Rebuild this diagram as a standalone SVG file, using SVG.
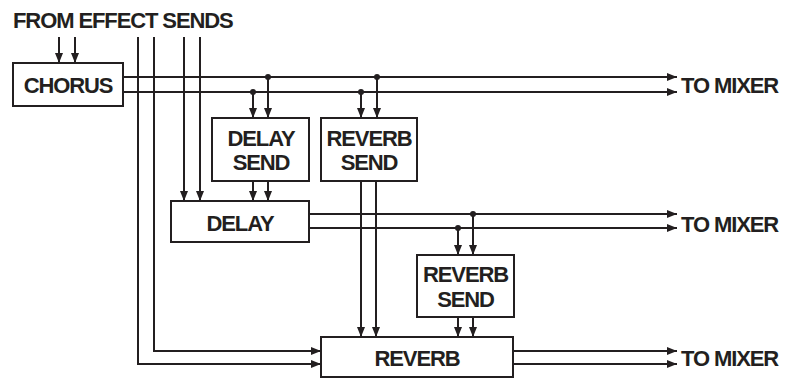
<svg xmlns="http://www.w3.org/2000/svg" width="785" height="378" viewBox="0 0 785 378">
<defs>
<marker id="ah" markerUnits="userSpaceOnUse" markerWidth="10" markerHeight="10" viewBox="0 0 10 10" refX="10" refY="5" orient="auto">
<path d="M0,1 L10,5 L0,9 Z" fill="#231f20"/>
</marker>
<style>
.box{fill:#fff;stroke:#231f20;stroke-width:2}
.ln{fill:none;stroke:#231f20;stroke-width:2}
.ar{fill:none;stroke:#231f20;stroke-width:2;marker-end:url(#ah)}
.dot{fill:#231f20}
text{font-family:"Liberation Sans",Arial,Helvetica,sans-serif;font-weight:bold;font-size:22px;letter-spacing:-1.1px;fill:#231f20}
.c{text-anchor:middle}
</style>
</defs>
<rect width="785" height="378" fill="#fff"/>
<g id="connectors">
<path class="ar" d="M59,37 V63"/>
<path class="ar" d="M75,37 V63"/>
<path class="ar" d="M138,37 V364 H321"/>
<path class="ar" d="M154,37 V351 H321"/>
<path class="ar" d="M184,37 V201"/>
<path class="ar" d="M200,37 V201"/>
<path class="ar" d="M123,77 H677"/>
<path class="ar" d="M123,92 H677"/>
<circle class="dot" cx="268" cy="77" r="3"/>
<circle class="dot" cx="253" cy="92" r="3"/>
<circle class="dot" cx="377" cy="77" r="3"/>
<circle class="dot" cx="361" cy="92" r="3"/>
<path class="ar" d="M253,92 V118"/>
<path class="ar" d="M268,77 V118"/>
<path class="ar" d="M361,92 V118"/>
<path class="ar" d="M377,77 V118"/>
<path class="ar" d="M253,181 V201"/>
<path class="ar" d="M268,181 V201"/>
<path class="ar" d="M361,181 V337"/>
<path class="ar" d="M376,181 V337"/>
<path class="ar" d="M309,214 H677"/>
<path class="ar" d="M309,228 H677"/>
<circle class="dot" cx="473" cy="214" r="3"/>
<circle class="dot" cx="458" cy="228" r="3"/>
<path class="ar" d="M458,228 V255"/>
<path class="ar" d="M473,214 V255"/>
<path class="ar" d="M458,317 V337"/>
<path class="ar" d="M473,317 V337"/>
<path class="ar" d="M513,351 H677"/>
<path class="ar" d="M513,364 H677"/>
</g>
<text x="13" y="28">FROM EFFECT SENDS</text>
<g id="chorus">
<rect class="box" x="13" y="63" width="110" height="43"/>
<text class="c" x="68" y="93">CHORUS</text>
</g>
<g id="delay-send">
<rect class="box" x="212" y="118" width="97" height="63"/>
<text class="c" x="261" y="146">DELAY</text>
<text class="c" x="261" y="170">SEND</text>
</g>
<g id="reverb-send-1">
<rect class="box" x="321" y="118" width="96" height="63"/>
<text class="c" x="369" y="146">REVERB</text>
<text class="c" x="369" y="170">SEND</text>
</g>
<g id="delay">
<rect class="box" x="171" y="201" width="138" height="41"/>
<text class="c" x="240" y="231">DELAY</text>
</g>
<g id="reverb-send-2">
<rect class="box" x="417" y="255" width="97" height="62"/>
<text class="c" x="465.5" y="282">REVERB</text>
<text class="c" x="465.5" y="307">SEND</text>
</g>
<g id="reverb">
<rect class="box" x="321" y="337" width="192" height="40"/>
<text class="c" x="417" y="366">REVERB</text>
</g>
<g id="outputs">
<text x="681" y="93">TO MIXER</text>
<text x="681" y="232">TO MIXER</text>
<text x="681" y="366">TO MIXER</text>
</g>
</svg>
